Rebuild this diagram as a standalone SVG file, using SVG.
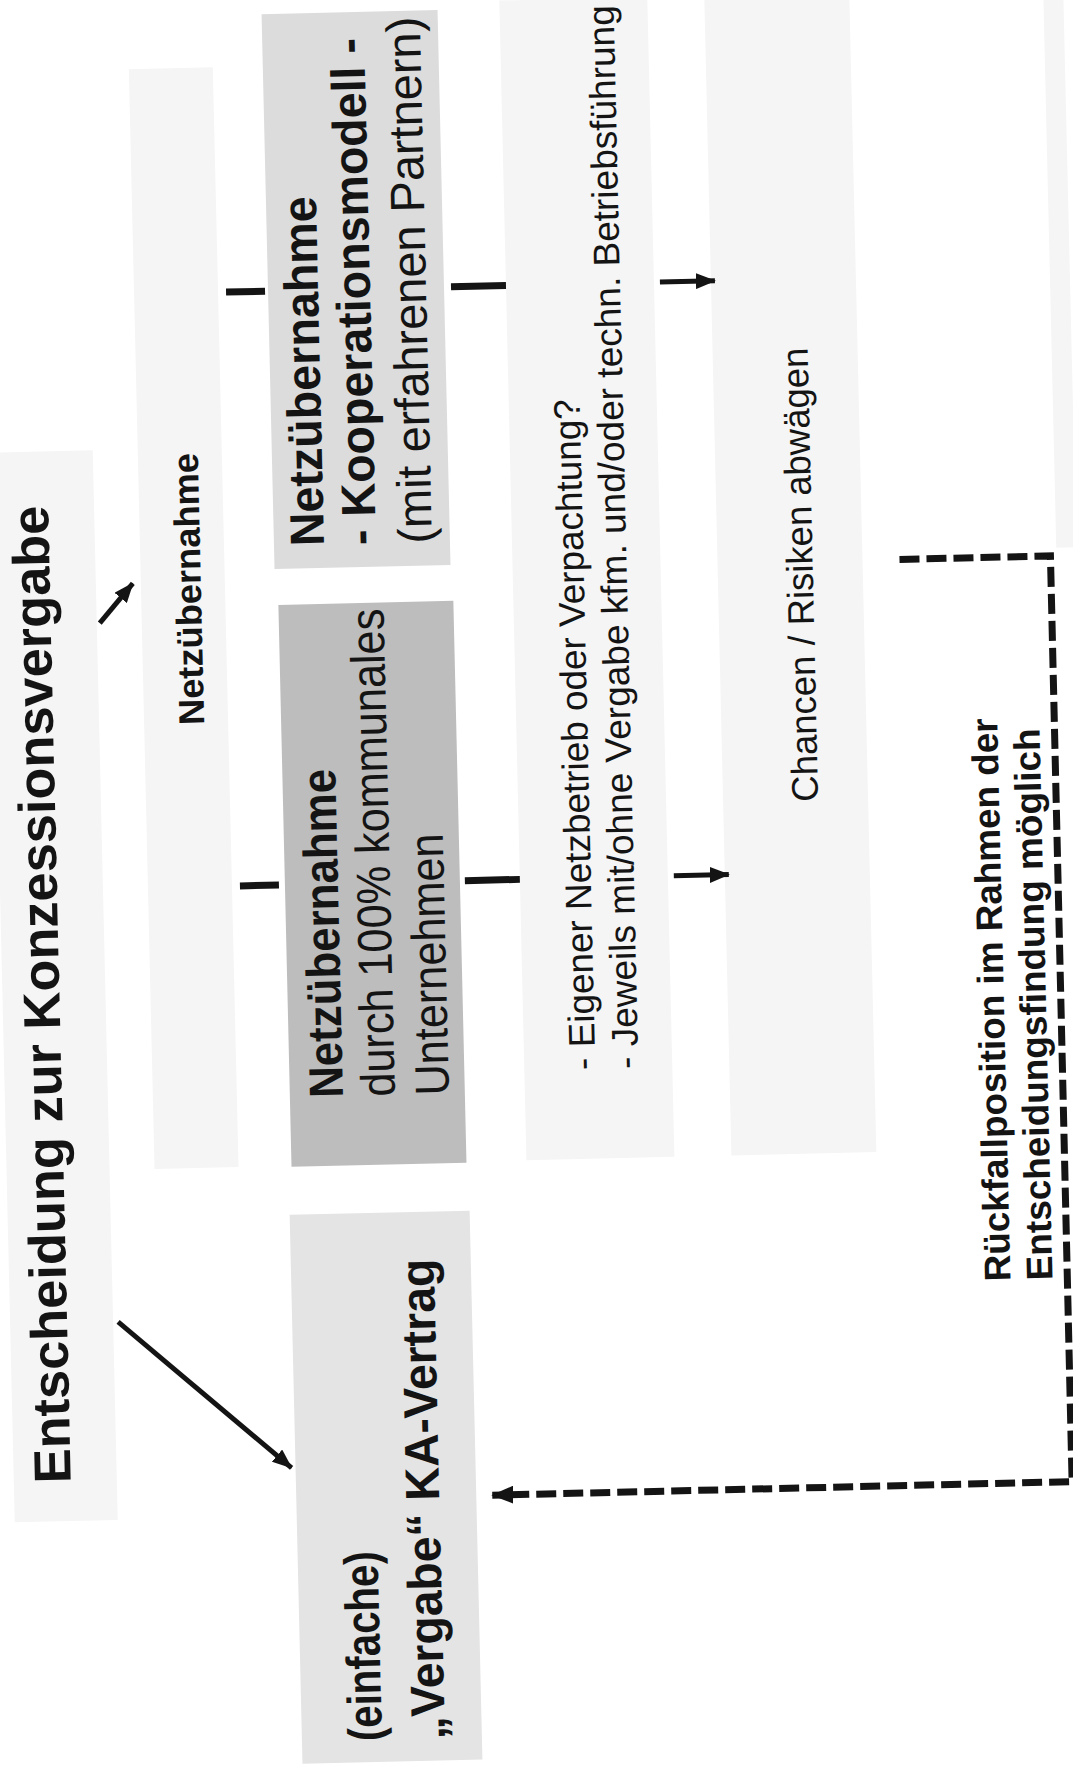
<svg xmlns="http://www.w3.org/2000/svg" width="1073" height="1771" viewBox="0 0 1073 1771">
  <style>
    text { font-family: "Liberation Sans", Arial, Helvetica, sans-serif; fill: #141414; }
    .b { font-weight: bold; }
    .band { fill: #f5f5f5; }
    .solid { stroke: #141414; stroke-width: 5; fill: none; }
    .bar { stroke: #141414; stroke-width: 7; }
    .dash { stroke: #141414; stroke-width: 7; stroke-dasharray: 20 7; fill: none; }
  </style>
  <defs>
    <marker id="head" markerUnits="userSpaceOnUse" markerWidth="20" markerHeight="16" refX="19" refY="8" orient="auto">
      <path d="M0,0 L20,8 L0,16 Z" fill="#141414"/>
    </marker>
    <marker id="headDash" markerUnits="userSpaceOnUse" markerWidth="22" markerHeight="18" refX="21" refY="9" orient="auto">
      <path d="M0,0 L22,9 L0,18 Z" fill="#141414"/>
    </marker>
  </defs>

  <rect width="1073" height="1771" fill="#ffffff"/>

  <!-- whole sheet is laid out sideways; text runs bottom to top -->
  <g transform="rotate(-1.34 536 885)">
    <!-- faint column backgrounds -->
    <g id="bands">
      <rect class="band" x="0" y="440" width="103" height="1070"/>
      <rect class="band" x="148" y="60" width="84" height="1100"/>
      <rect class="band" x="520" y="0" width="148" height="1160"/>
      <rect class="band" x="725" y="0" width="145" height="1160"/>
      <rect class="band" x="1064" y="0" width="20" height="560"/>
    </g>

    <g id="node-title">
      <text class="b" font-size="52" textLength="978" lengthAdjust="spacingAndGlyphs" transform="translate(57 1472) rotate(-90)">Entscheidung zur Konzessionsvergabe</text>
    </g>

    <g id="node-label-netz">
      <text class="b" font-size="36" textLength="272" lengthAdjust="spacingAndGlyphs" transform="translate(208 717) rotate(-90)">Netzübernahme</text>
    </g>

    <g id="node-koop">
      <rect x="282" y="8" width="176" height="555" fill="#dcdcdc"/>
      <text class="b" font-size="48" textLength="350" lengthAdjust="spacingAndGlyphs" transform="translate(332 541) rotate(-90)">Netzübernahme</text>
      <text class="b" font-size="48" textLength="507" lengthAdjust="spacingAndGlyphs" transform="translate(384 541) rotate(-90)">- Kooperationsmodell -</text>
      <text font-size="48" textLength="527" lengthAdjust="spacingAndGlyphs" transform="translate(440 541) rotate(-90)">(mit erfahrenen Partnern)</text>
    </g>

    <g id="node-kommunal">
      <rect x="285" y="599" width="175" height="562" fill="#bdbdbd"/>
      <text class="b" font-size="48" textLength="329" lengthAdjust="spacingAndGlyphs" transform="translate(338 1093) rotate(-90)">Netzübernahme</text>
      <text font-size="48" textLength="488" lengthAdjust="spacingAndGlyphs" transform="translate(390 1093) rotate(-90)">durch 100% kommunales</text>
      <text font-size="48" textLength="262" lengthAdjust="spacingAndGlyphs" transform="translate(444 1093) rotate(-90)">Unternehmen</text>
    </g>

    <g id="node-vergabe">
      <rect x="282" y="1209" width="180" height="549" fill="#e4e4e4"/>
      <text class="b" font-size="48" textLength="190" lengthAdjust="spacingAndGlyphs" transform="translate(362 1737) rotate(-90)">(einfache)</text>
      <text class="b" font-size="48" textLength="481" lengthAdjust="spacingAndGlyphs" transform="translate(425 1737) rotate(-90)">„Vergabe“ KA-Vertrag</text>
    </g>

    <g id="node-eigener">
      <text font-size="37" textLength="671" lengthAdjust="spacingAndGlyphs" transform="translate(591 1071) rotate(-90)">- Eigener Netzbetrieb oder Verpachtung?</text>
      <text font-size="37" textLength="1064" lengthAdjust="spacingAndGlyphs" transform="translate(634 1071) rotate(-90)">- Jeweils mit/ohne Vergabe kfm. und/oder techn. Betriebsführung</text>
    </g>

    <g id="node-chancen">
      <text font-size="37" textLength="454" lengthAdjust="spacingAndGlyphs" transform="translate(820 808) rotate(-90)">Chancen / Risiken abwägen</text>
    </g>

    <g id="node-rueckfall">
      <text class="b" font-size="37" textLength="563" lengthAdjust="spacingAndGlyphs" transform="translate(1001 1292) rotate(-90)">Rückfallposition im Rahmen der</text>
      <text class="b" font-size="37" textLength="552" lengthAdjust="spacingAndGlyphs" transform="translate(1043 1292) rotate(-90)">Entscheidungsfindung möglich</text>
    </g>

    <g id="connectors">
      <!-- title to Netzübernahme -->
      <line class="solid" x1="106" y1="613" x2="140" y2="574" stroke-width="4" marker-end="url(#head)"/>
      <!-- title to Vergabe -->
      <line class="solid" x1="108" y1="1312" x2="278" y2="1462" marker-end="url(#head)"/>
      <!-- side bars at the two Netzübernahme boxes -->
      <line class="bar" x1="240" y1="285" x2="279" y2="285"/>
      <line class="bar" x1="465" y1="285" x2="520" y2="285"/>
      <line class="bar" x1="240" y1="879" x2="279" y2="879"/>
      <line class="bar" x1="465" y1="879" x2="520" y2="879"/>
      <!-- short arrows into the Chancen column -->
      <line class="solid" x1="674" y1="285" x2="729" y2="285" marker-end="url(#head)"/>
      <line class="solid" x1="674" y1="879" x2="729" y2="879" marker-end="url(#head)"/>
      <!-- fallback loop back to Vergabe -->
      <path class="dash" d="M907,568 H1058 V1494 H478" marker-end="url(#headDash)"/>
    </g>
  </g>
</svg>
